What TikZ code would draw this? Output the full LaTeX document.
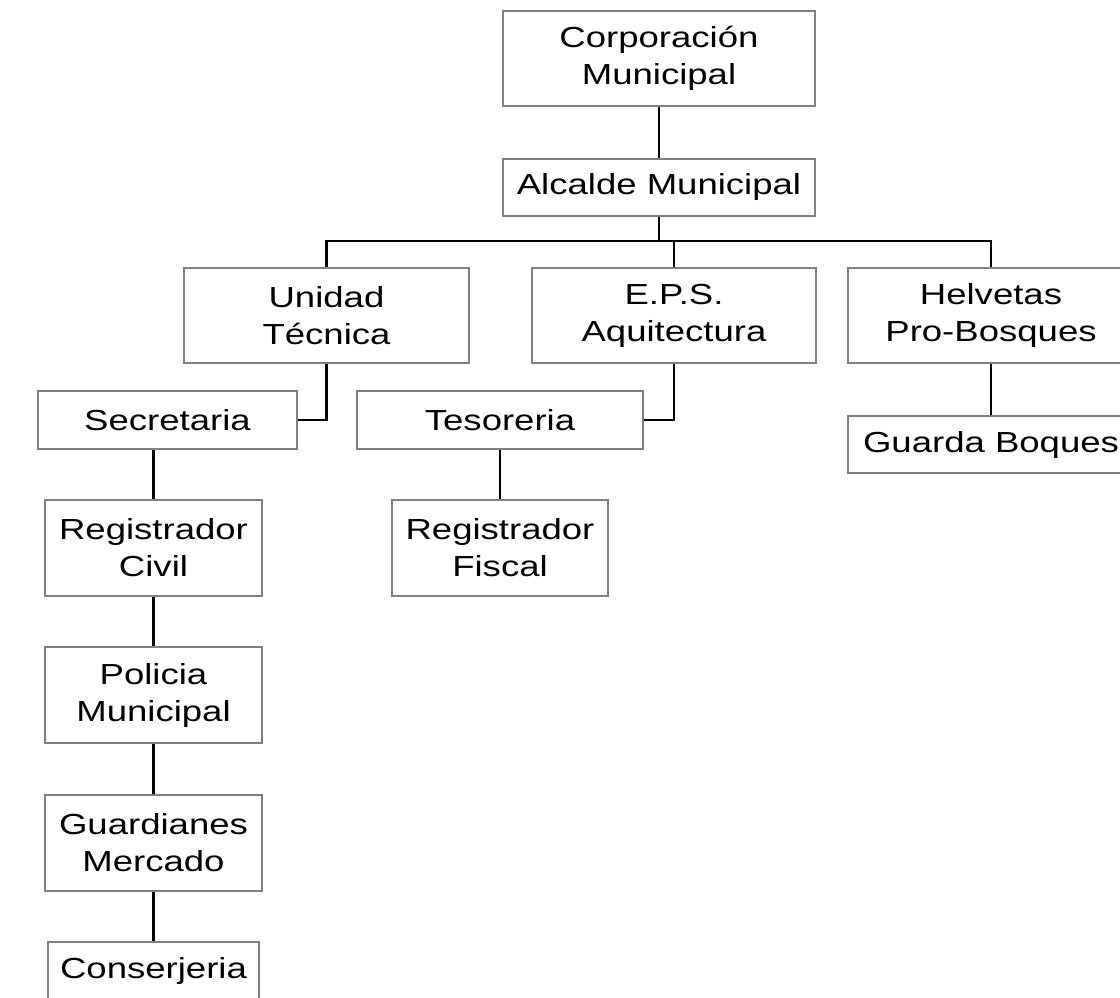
\documentclass[tikz,border=0pt]{standalone}
\usepackage{fontspec}
\setmainfont{Liberation Sans}[FakeStretch=1.26]
\begin{document}
\begin{tikzpicture}[x=1pt,y=-1pt,
  box/.style={draw=black!50, line width=2pt, fill=white, inner sep=0pt, align=center,
    font=\fontsize{29}{37}\selectfont},
  link/.style={draw=black, line width=2.5pt}]
\clip (0,0) rectangle (1120,998);
\node[box, minimum width=312pt, minimum height=95pt] (corp) at (659,58.5) {Corporación\\Municipal};
\node[box, minimum width=312pt, minimum height=57pt] (alc) at (659,187.5) {Alcalde Municipal};
\node[box, minimum width=285pt, minimum height=95pt] (unid) at (326.5,315.5) {Unidad\\Técnica};
\node[box, minimum width=284pt, minimum height=95pt] (eps) at (674,315.5) {E.P.S.\\Aquitectura};
\node[box, minimum width=286pt, minimum height=95pt] (helv) at (991,315.5) {Helvetas\\Pro-Bosques};
\node[box, minimum width=259pt, minimum height=58pt] (secr) at (167.5,420) {Secretaria};
\node[box, minimum width=286pt, minimum height=58pt] (teso) at (500,420) {Tesoreria};
\node[box, minimum width=286pt, minimum height=57pt] (guarda) at (991,444.5) {Guarda Boques};
\node[box, minimum width=217pt, minimum height=96pt] (regc) at (153.5,548) {Registrador\\Civil};
\node[box, minimum width=216pt, minimum height=96pt] (regf) at (500,548) {Registrador\\Fiscal};
\node[box, minimum width=217pt, minimum height=96pt] (pol) at (153.5,695) {Policia\\Municipal};
\node[box, minimum width=217pt, minimum height=96pt] (guard) at (153.5,843) {Guardianes\\Mercado};
\node[box, minimum width=211pt, minimum height=57pt] (cons) at (153.5,970.5) {Conserjeria};
\coordinate (bus) at (659,241);
\draw[link] (corp.south) -- (alc.north);
\draw[link] (alc.south) -- (bus);
\draw[link] (unid.north) -- (unid.north |- bus) -- (helv.north |- bus) -- (helv.north);
\draw[link] (eps.north) -- (eps.north |- bus);
\draw[link] (unid.south) |- (secr.east);
\draw[link] (eps.south) |- (teso.east);
\draw[link] (helv.south) -- (guarda.north);
\draw[link] (teso.south -| regf.north) -- (regf.north);
\draw[link] (secr.south -| regc.north) -- (regc.north);
\draw[link] (regc.south) -- (pol.north);
\draw[link] (pol.south) -- (guard.north);
\draw[link] (guard.south) -- (cons.north);
\end{tikzpicture}
\end{document}
